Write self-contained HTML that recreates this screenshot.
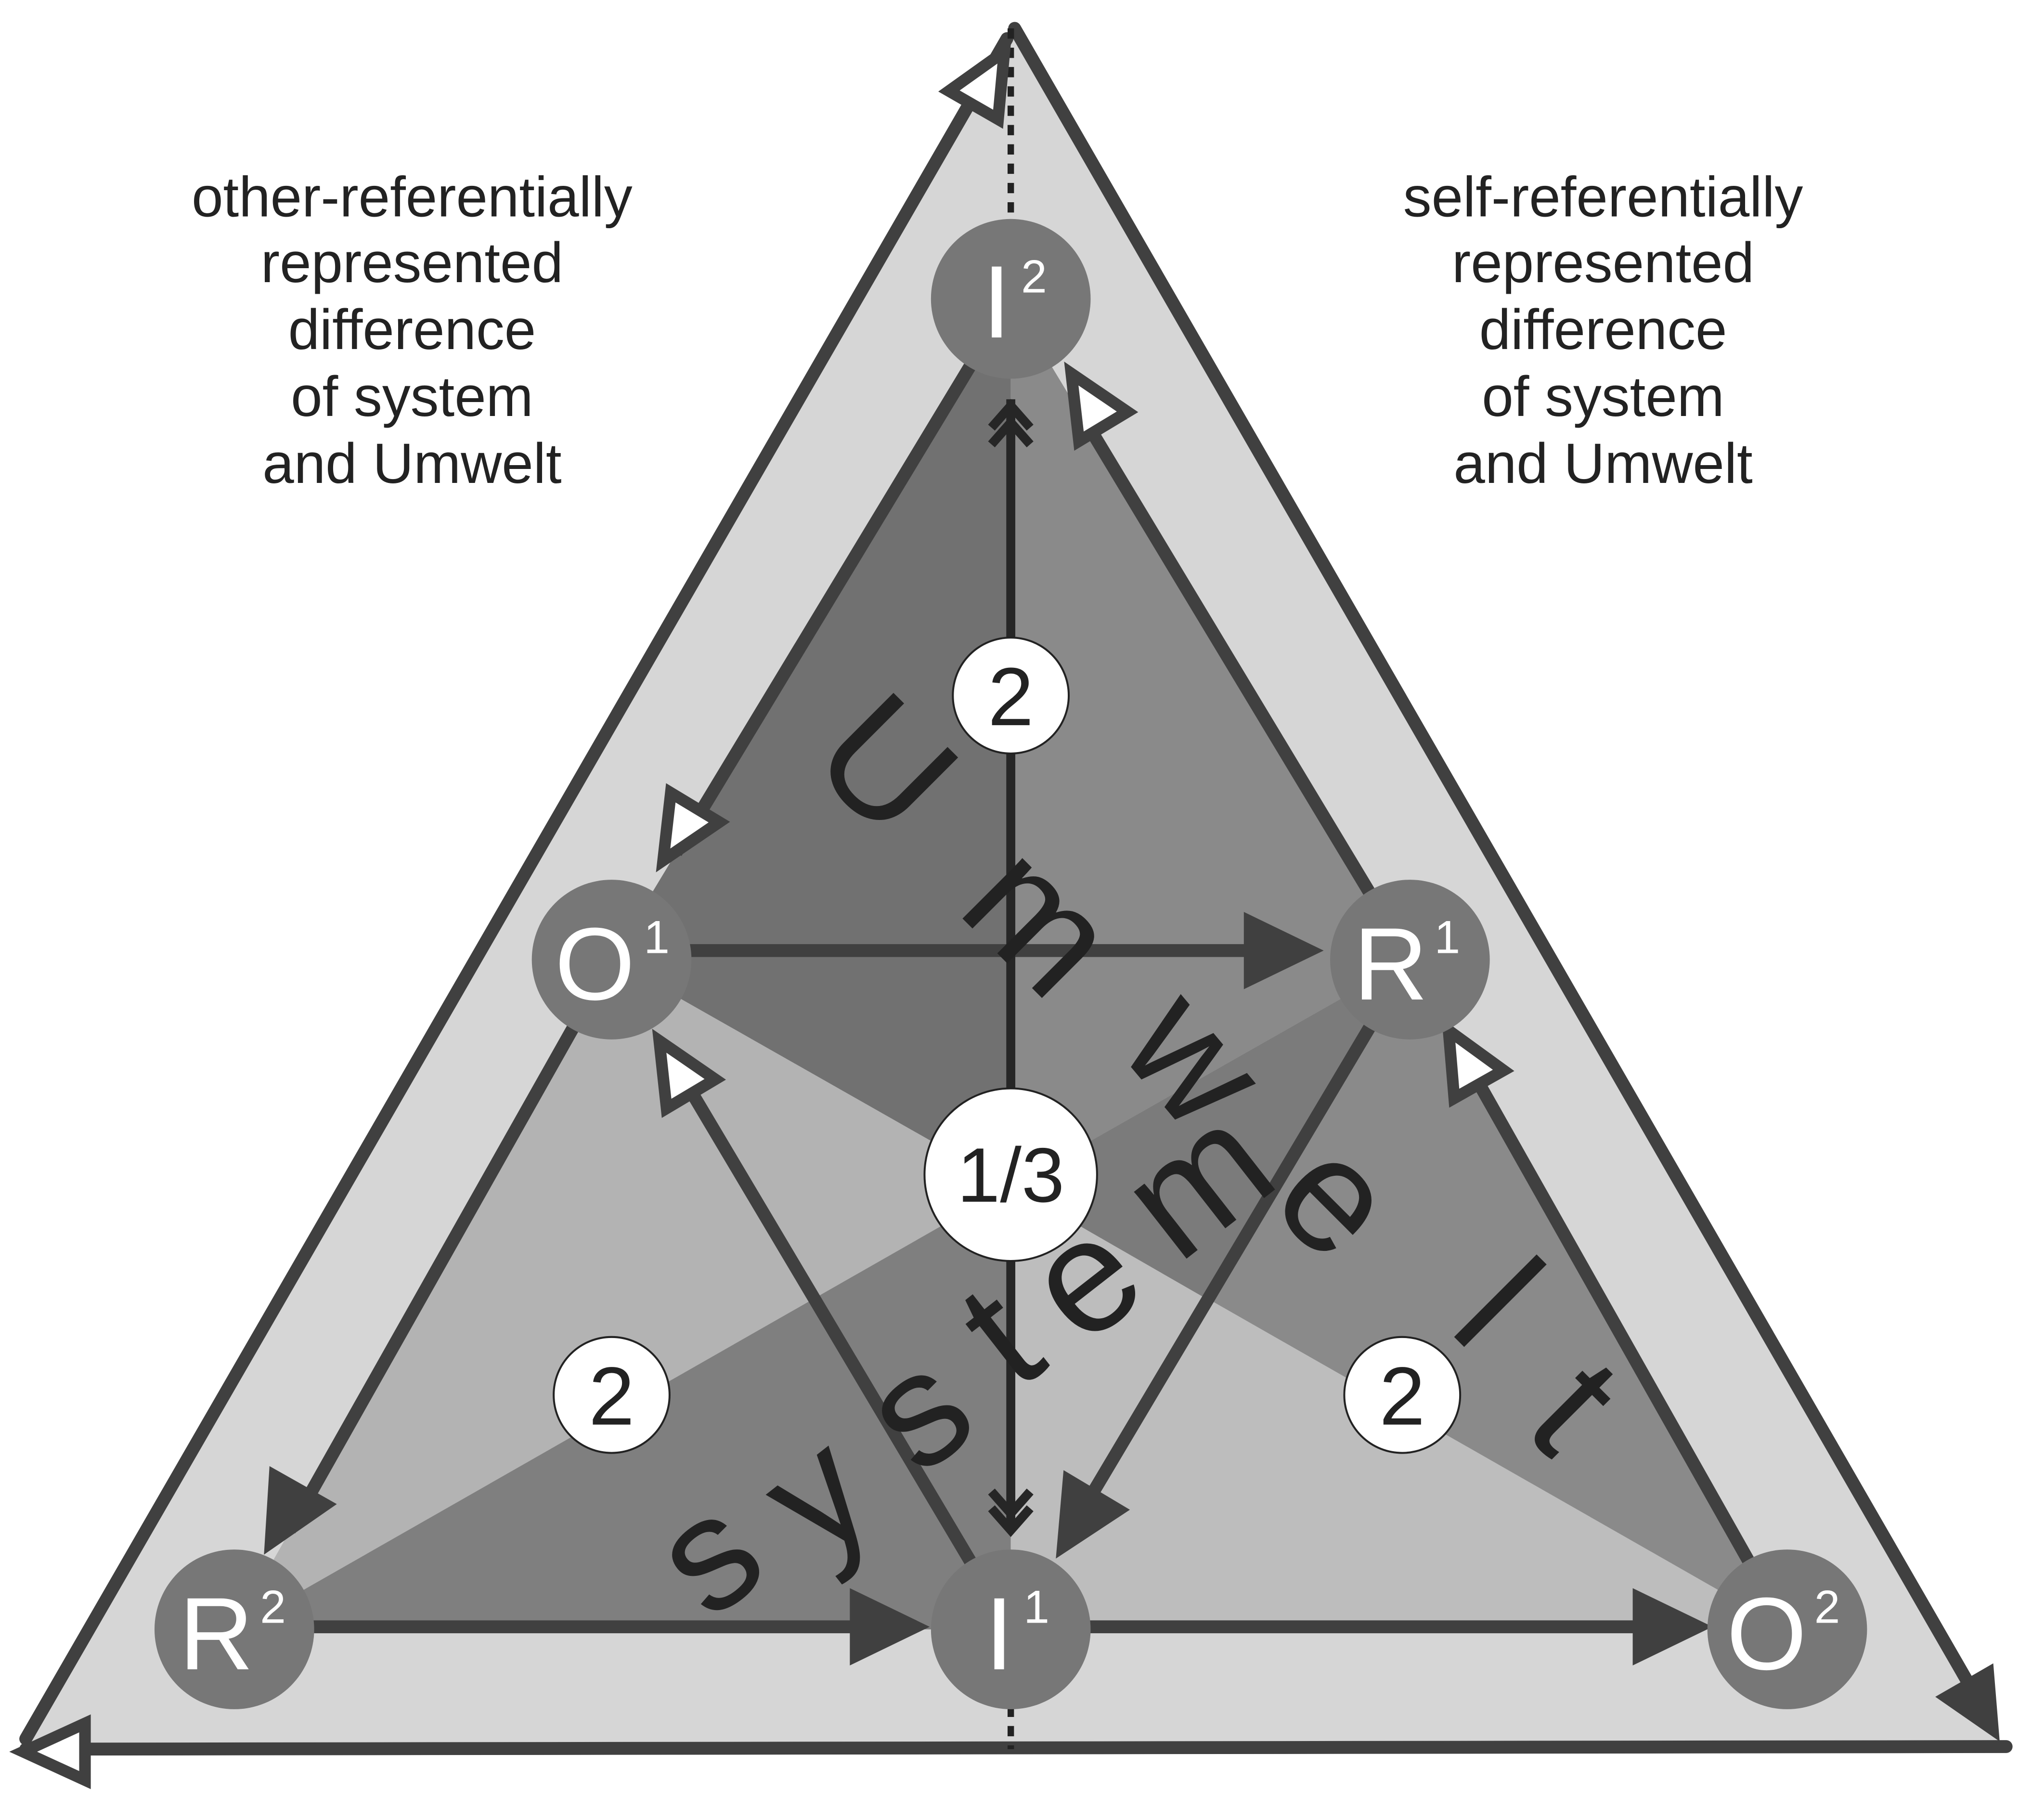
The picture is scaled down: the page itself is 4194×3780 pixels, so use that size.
<!DOCTYPE html>
<html><head><meta charset="utf-8"><style>html,body{margin:0;padding:0;background:#fff}svg{display:block}</style></head>
<body>
<svg width="4194" height="3780" viewBox="0 0 1568 1413" preserveAspectRatio="none" xmlns="http://www.w3.org/2000/svg" font-family="Liberation Sans, sans-serif">
<polygon points="785,22 15,1358 1555,1356" fill="#d6d6d6"/>
<polygon points="785,232 475,745 785,921" fill="#717171"/>
<polygon points="785,232 785,921 1095,745" fill="#8a8a8a"/>
<polygon points="475,745 182,1265 785,921" fill="#b3b3b3"/>
<polygon points="182,1265 785,1265 785,921" fill="#7f7f7f"/>
<polygon points="785,921 785,1265 1388,1265" fill="#bdbdbd"/>
<polygon points="785,921 1095,745 1388,1265" fill="#8a8a8a"/>
<polygon points="785,921 1095,745 938,1009" fill="#7b7b7b"/>
<polygon points="785,921 938,1009 785,1265" fill="#bdbdbd"/>
<g stroke="#404040" stroke-width="10" fill="none" stroke-linecap="round">
<line x1="20" y1="1350" x2="782" y2="30"/>
<line x1="788" y1="22" x2="1545" y2="1335"/>
<line x1="20" y1="1358" x2="1558" y2="1356"/>
</g>
<g stroke="#222" stroke-width="5" stroke-dasharray="8,7">
<line x1="785" y1="22" x2="785" y2="175"/>
<line x1="785" y1="1325" x2="785" y2="1358"/>
</g>
<g stroke="#404040" stroke-width="10" fill="none">
<line x1="785" y1="232" x2="525" y2="662"/>
<line x1="1095" y1="745" x2="840" y2="322"/>
<line x1="475" y1="738" x2="1000" y2="738"/>
<line x1="475" y1="745" x2="225" y2="1188"/>
<line x1="1095" y1="745" x2="835" y2="1182"/>
<line x1="785" y1="1265" x2="530" y2="836"/>
<line x1="1388" y1="1265" x2="1140" y2="826"/>
<line x1="182" y1="1263" x2="690" y2="1263"/>
<line x1="785" y1="1263" x2="1300" y2="1263"/>
</g>
<g stroke="#262626" stroke-width="7" fill="none">
<line x1="785" y1="310" x2="785" y2="1185"/>
<polyline points="770,332 785,315 800,332"/>
<polyline points="770,345 785,328 800,345"/>
<polyline points="770,1158 785,1175 800,1158"/>
<polyline points="770,1171 785,1188 800,1171"/>
</g>
<g fill="#404040">
<polygon points="0,0 -62,-30 -62,30" transform="translate(1028,738) rotate(0)"/>
<polygon points="0,0 -62,-30 -62,30" transform="translate(205,1207) rotate(119.4)"/>
<polygon points="0,0 -62,-30 -62,30" transform="translate(820,1210) rotate(120.8)"/>
<polygon points="0,0 -62,-30 -62,30" transform="translate(722,1263)"/>
<polygon points="0,0 -62,-30 -62,30" transform="translate(1330,1263)"/>
<polygon points="0,0 -55,-26 -55,26" transform="translate(1553,1352) rotate(60)"/>
</g>
<g fill="#fff" stroke="#404040" stroke-width="9" stroke-linejoin="miter">
<polygon points="0,0 -48,-22 -48,22" transform="translate(515,668) rotate(121.1)"/>
<polygon points="0,0 -48,-22 -48,22" transform="translate(832,290) rotate(-121.1)"/>
<polygon points="0,0 -48,-22 -48,22" transform="translate(512,808) rotate(-120.8)"/>
<polygon points="0,0 -48,-22 -48,22" transform="translate(1125,800) rotate(-119.4)"/>
<polygon points="0,0 -48,-22 -48,22" transform="translate(780,40) rotate(-60.1)"/>
<polygon points="0,0 -48,-22 -48,22" transform="translate(18,1360) rotate(180)"/>
</g>
<g fill="#777">
<circle cx="785" cy="232" r="62"/>
<circle cx="475" cy="745" r="62"/>
<circle cx="1095" cy="745" r="62"/>
<circle cx="182" cy="1265" r="62"/>
<circle cx="785" cy="1265" r="62"/>
<circle cx="1388" cy="1265" r="62"/>
</g>
<g fill="#fff" font-size="80">
<text x="774" y="262" text-anchor="middle">I</text><text x="793" y="227" font-size="36">2</text>
<text x="462" y="776" text-anchor="middle">O</text><text x="500" y="740" font-size="36">1</text>
<text x="1080" y="776" text-anchor="middle">R</text><text x="1114" y="740" font-size="36">1</text>
<text x="168" y="1296" text-anchor="middle">R</text><text x="202" y="1260" font-size="36">2</text>
<text x="776" y="1296" text-anchor="middle">I</text><text x="795" y="1260" font-size="36">1</text>
<text x="1372" y="1296" text-anchor="middle">O</text><text x="1409" y="1260" font-size="36">2</text>
</g>
<g fill="#fff" stroke="#222" stroke-width="1.5">
<circle cx="785" cy="540" r="45"/>
<circle cx="785" cy="912" r="67"/>
<circle cx="475" cy="1083" r="45"/>
<circle cx="1089" cy="1083" r="45"/>
</g>
<g fill="#222" text-anchor="middle" font-size="64">
<text x="785" y="563">2</text>
<text x="785" y="933" font-size="60">1/3</text>
<text x="475" y="1106">2</text>
<text x="1089" y="1106">2</text>
</g>
<g fill="#222" font-size="125" text-anchor="middle">
<text dy="0.36em" transform="translate(690,592) rotate(45)">U</text>
<text dy="0.36em" transform="translate(810,712) rotate(45)">m</text>
<text dy="0.36em" transform="translate(930,820) rotate(50)">w</text>
<text dy="0.36em" transform="translate(1040,928) rotate(45)">e</text>
<text dy="0.36em" transform="translate(1165,1010) rotate(45)">l</text>
<text dy="0.36em" transform="translate(1225,1090) rotate(45)">t</text>
<text dy="0.36em" transform="translate(548,1205) rotate(-38)">s</text>
<text dy="0.36em" transform="translate(632,1158) rotate(-38)">y</text>
<text dy="0.36em" transform="translate(711,1093) rotate(-38)">s</text>
<text dy="0.36em" transform="translate(775,1035) rotate(-38)">t</text>
<text dy="0.36em" transform="translate(840,990) rotate(-38)">e</text>
<text dy="0.36em" transform="translate(928,915) rotate(-38)">m</text>
</g>
<g fill="#222" font-size="44" text-anchor="middle">
<text x="320" y="168">other-referentially</text>
<text x="320" y="219">represented</text>
<text x="320" y="271">difference</text>
<text x="320" y="323">of system</text>
<text x="320" y="375">and Umwelt</text>
<text x="1245" y="168">self-referentially</text>
<text x="1245" y="219">represented</text>
<text x="1245" y="271">difference</text>
<text x="1245" y="323">of system</text>
<text x="1245" y="375">and Umwelt</text>
</g>
</svg>
</body></html>
